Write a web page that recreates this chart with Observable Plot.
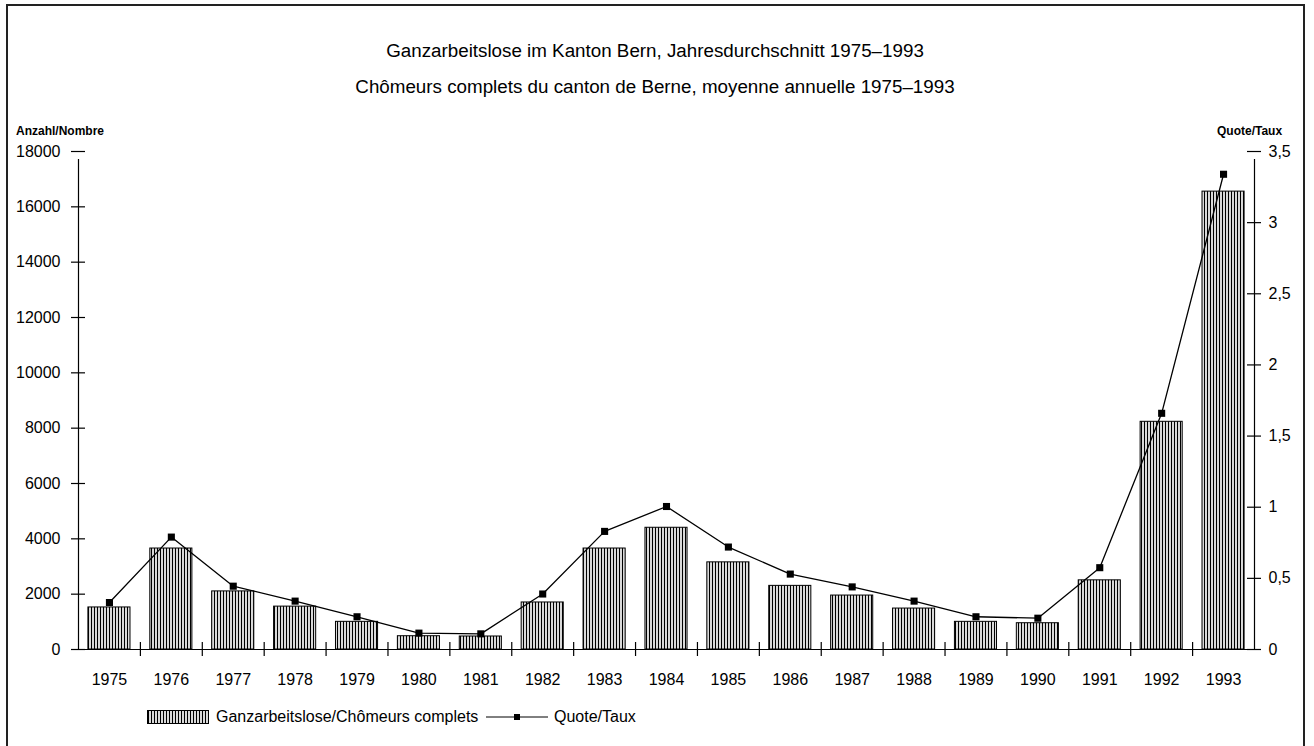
<!DOCTYPE html>
<html>
<head>
<meta charset="utf-8">
<script src="https://cdn.jsdelivr.net/npm/d3@7"></script>
<script src="https://cdn.jsdelivr.net/npm/@observablehq/plot@0.6"></script>
<style>
  html, body { margin: 0; padding: 0; background: #fff; }
  body { width: 1314px; height: 746px; position: relative; overflow: hidden;
         font-family: "Liberation Sans", Arial, Helvetica, sans-serif; color: #000; }
  .abs { position: absolute; white-space: nowrap; }
  #frame { position: absolute; left: 6px; top: 4px; width: 1295px; height: 800px;
           border: 2px solid #222; border-bottom: none; }
  .title { left: 0; width: 1310px; text-align: center; font-size: 18.8px; line-height: 20px; }
  .axlab { font-size: 12px; font-weight: bold; line-height: 14px; }
  #chart { position: absolute; left: 0; top: 0; }
  .leg { font-size: 16px; line-height: 18px; }
</style>
</head>
<body>
<div id="frame"></div>
<div class="abs title" style="top:41px;">Ganzarbeitslose im Kanton Bern, Jahresdurchschnitt 1975–1993</div>
<div class="abs title" style="top:77px;">Chômeurs complets du canton de Berne, moyenne annuelle 1975–1993</div>
<div class="abs axlab" style="left:16px; top:124px;">Anzahl/Nombre</div>
<div class="abs axlab" style="left:1217px; top:124px;">Quote/Taux</div>
<div id="chart"></div>
<div class="abs" style="left:147px; top:710px;">
  <svg width="62" height="14"><defs>
    <pattern id="hatchL" patternUnits="userSpaceOnUse" width="3" height="10">
      <rect width="3" height="10" fill="#fff"/><line x1="1.5" y1="0" x2="1.5" y2="10" stroke="#000" stroke-width="1.3"/>
    </pattern></defs>
    <rect x="0.5" y="0.5" width="61" height="13" fill="url(#hatchL)" stroke="#000"/>
  </svg>
</div>
<div class="abs leg" style="left:216px; top:708px;">Ganzarbeitslose/Chômeurs complets</div>
<div class="abs" style="left:486px; top:710px;">
  <svg width="62" height="14"><line x1="0" y1="7" x2="62" y2="7" stroke="#000" stroke-width="1"/>
    <rect x="28" y="4" width="6" height="6" fill="#000"/></svg>
</div>
<div class="abs leg" style="left:554px; top:708px;">Quote/Taux</div>

<script>
// ---- data ----
const years = [1975, 1976, 1977, 1978, 1979, 1980, 1981, 1982, 1983, 1984, 1985, 1986, 1987, 1988, 1989, 1990, 1991, 1992, 1993];
const counts = [1520, 3650, 2100, 1550, 1000, 480, 470, 1700, 3650, 4400, 3150, 2300, 1950, 1480, 1000, 950, 2500, 8230, 16550];
const rates = [0.33, 0.79, 0.445, 0.34, 0.23, 0.115, 0.11, 0.39, 0.83, 1.005, 0.72, 0.53, 0.44, 0.34, 0.23, 0.22, 0.575, 1.66, 3.34];
const leftTicks = [0, 2000, 4000, 6000, 8000, 10000, 12000, 14000, 16000, 18000];
const rateTicks = [0, 0.5, 1, 1.5, 2, 2.5, 3, 3.5];

const countMax = 18000, rateMax = 3.5;
const k = countMax / rateMax;
const data = years.map((y, i) => ({i, year: y, count: counts[i], rate: rates[i]}));
const boundaries = d3.range(0.5, years.length - 1, 1);
const xLo = -0.5, xHi = years.length - 0.5;
const fmtRate = v => String(v).replace(".", ",");

const plot = Plot.plot({
  width: 1314,
  height: 746,
  marginLeft: 78,
  marginRight: 60,
  marginTop: 151,
  marginBottom: 97,
  x: {type: "linear", domain: [xLo, xHi], axis: null},
  y: {domain: [0, countMax], axis: null},
  style: {fontFamily: "'Liberation Sans', Arial, sans-serif", fontSize: "16px", background: "transparent", color: "#000", overflow: "visible"},
  marks: [
    Plot.rectY(data, {x1: d => d.i - 0.34, x2: d => d.i + 0.34, y1: 0, y2: "count", fill: "url(#hatch)", stroke: "#000", strokeWidth: 1}),
    Plot.ruleY([0], {x1: xLo, x2: xHi, stroke: "#000", strokeWidth: 1.2}),
    Plot.ruleX([xLo, xHi], {y1: 0, y2: countMax, insetBottom: -8, stroke: "#000", strokeWidth: 1.2}),
    Plot.ruleX(boundaries, {x: d => d, y1: 0, y2: 0, insetTop: -7, insetBottom: -7, stroke: "#000", strokeWidth: 1.2}),
    Plot.ruleY(leftTicks, {y: d => d, x1: xLo, x2: xLo, insetLeft: -7, insetRight: -7, stroke: "#000", strokeWidth: 1.2}),
    Plot.ruleY(rateTicks, {y: d => d * k, x1: xHi, x2: xHi, insetLeft: -7, insetRight: -7, stroke: "#000", strokeWidth: 1.2}),
    Plot.text(leftTicks, {x: xLo, y: d => d, text: d => String(d), textAnchor: "end", dx: -18, fill: "#000", fontSize: 16}),
    Plot.text(rateTicks, {x: xHi, y: d => d * k, text: fmtRate, textAnchor: "start", dx: 14, fill: "#000", fontSize: 16}),
    Plot.text(data, {x: "i", y: 0, text: d => String(d.year), dy: 30, fill: "#000", fontSize: 16}),
    Plot.line(data, {x: "i", y: d => d.rate * k, stroke: "#000", strokeWidth: 1.3}),
    Plot.dot(data, {x: "i", y: d => d.rate * k, symbol: "square", r: 4, fill: "#000", stroke: "none"})
  ]
});

const ns = "http://www.w3.org/2000/svg";
const defs = document.createElementNS(ns, "defs");
defs.innerHTML = '<pattern id="hatch" patternUnits="userSpaceOnUse" width="3" height="10">' +
  '<rect width="3" height="10" fill="#fff"/>' +
  '<line x1="1.5" y1="0" x2="1.5" y2="10" stroke="#000" stroke-width="1.3"/></pattern>';
plot.insertBefore(defs, plot.firstChild);
document.getElementById("chart").appendChild(plot);
</script>
</body>
</html>
